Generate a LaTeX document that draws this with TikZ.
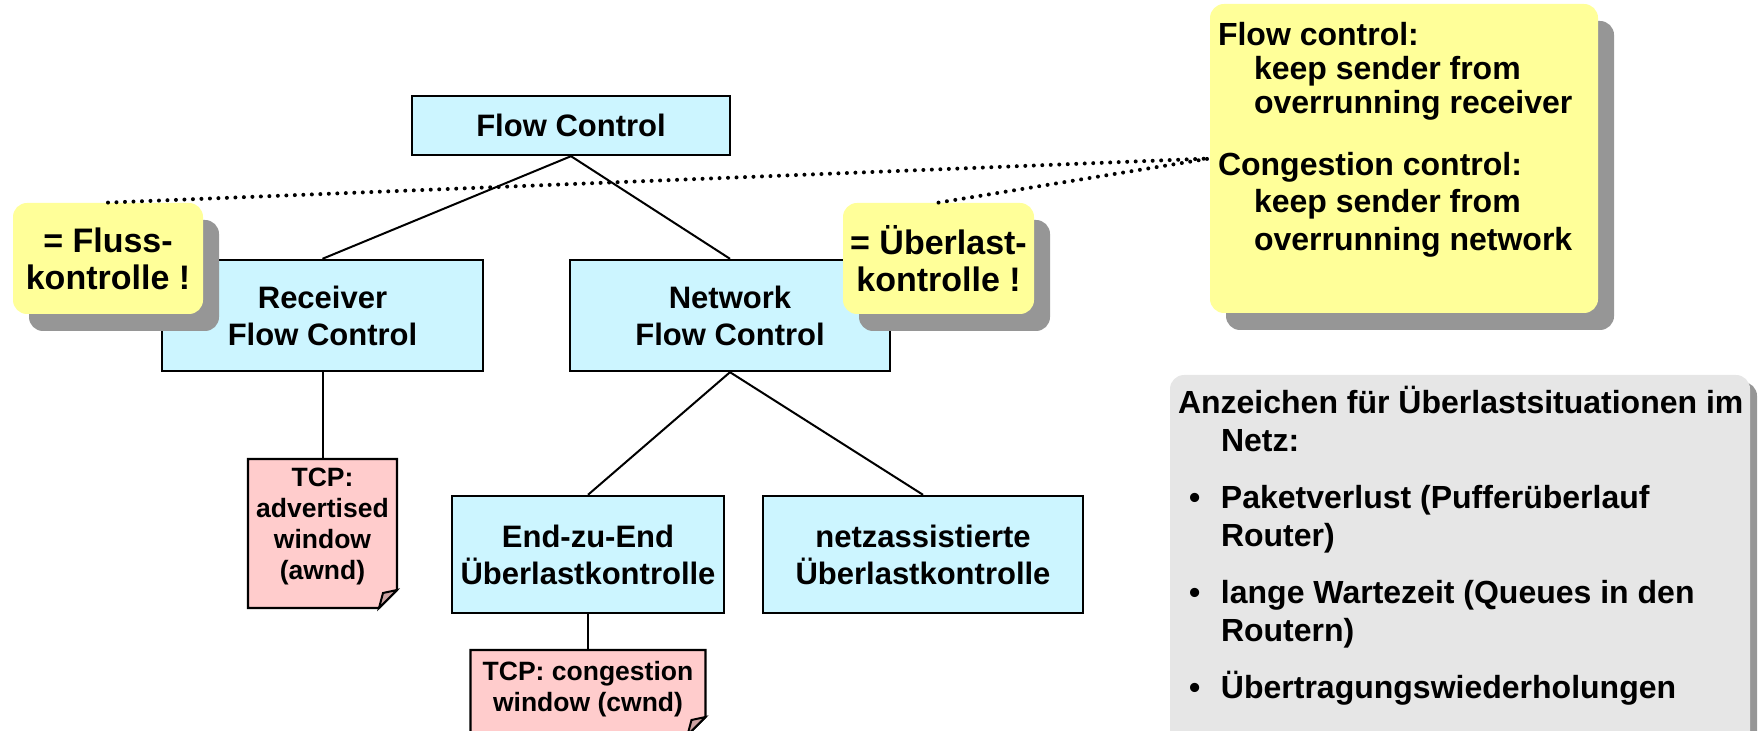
\documentclass[tikz,border=0pt]{standalone}
\usepackage{fontspec}
\setmainfont{Liberation Sans}
\usetikzlibrary{positioning,shadows,calc}

\definecolor{boxcyan}{RGB}{204,245,255}
\definecolor{calloutyellow}{RGB}{255,255,153}
\definecolor{notepink}{RGB}{255,204,204}
\definecolor{foldpink}{RGB}{204,163,163}
\definecolor{shadowgray}{RGB}{150,150,150}
\definecolor{infogray}{RGB}{230,230,230}

\newcommand{\infobullet}{\makebox[21.5pt][l]{\hspace*{5.5pt}•}}

\begin{document}
\begin{tikzpicture}[x=0.5pt,y=-0.5pt,
    ctrlbox/.style={draw,line width=1.2pt,fill=boxcyan,align=center,inner sep=2pt,
      font=\fontsize{15.5}{18.5}\selectfont\bfseries},
    callout/.style={fill=calloutyellow,rounded corners=7pt,align=center,inner sep=2pt,
      drop shadow={fill=shadowgray,opacity=1,shadow xshift=8pt,shadow yshift=-8.5pt},
      font=\fontsize{17}{18.5}\selectfont\bfseries},
    notearea/.style={inner sep=0pt,outer sep=0pt},
    notepaper/.style={fill=notepink,draw,line width=1.2pt},
    notefold/.style={fill=foldpink,draw,line width=1pt},
    notetext/.style={align=center,inner sep=0pt,font=\fontsize{13.25}{15.5}\selectfont\bfseries},
    tree/.style={line width=1pt},
    dots/.style={line width=2pt,line cap=round,dash pattern=on 0pt off 4.25pt}]
  \useasboundingbox (0,0) rectangle (1764,731);
  \clip (0,0) rectangle (1764,731);

  % tree of flow control
  \node[ctrlbox,minimum width=159pt,minimum height=29.5pt] (flow) at (571,125.5) {Flow Control};
  \node[ctrlbox,minimum width=160.5pt,minimum height=55.5pt] (recv) at (322.5,315.5) {Receiver\\Flow Control};
  \node[ctrlbox,minimum width=160pt,minimum height=55.5pt] (net) at (730,315.5) {Network\\Flow Control};
  \node[ctrlbox,minimum width=136pt,minimum height=58.5pt] (e2e) at (588,554.5) {End-zu-End\\Überlastkontrolle};
  \node[ctrlbox,minimum width=160pt,minimum height=58.5pt] (netz) at (923,554.5) {netzassistierte\\Überlastkontrolle};
  \draw[tree] (flow.south) -- (recv.north);
  \draw[tree] (flow.south) -- (net.north);
  \draw[tree] (net.south) -- (e2e.north);
  \draw[tree] (net.south) -- (netz.north);

  % TCP notes
  \node[notearea,minimum width=74.5pt,minimum height=74.5pt] (awnd) at (322.5,533.5) {};
  \draw[notepaper] (awnd.north west) -- (awnd.north east) -- ([yshift=9pt]awnd.south east)
    -- ([xshift=-9pt]awnd.south east) -- (awnd.south west) -- cycle;
  \draw[notefold] ([xshift=-9pt]awnd.south east) -- ([xshift=-7pt,yshift=7.5pt]awnd.south east)
    -- ([yshift=9pt]awnd.south east) -- cycle;
  \node[notetext,below=4.25pt of awnd.north] (awndtxt) {TCP:\\advertised\\window\\(awnd)};
  \draw[tree] (recv.south) -- (awnd.north);

  \node[notearea,minimum width=117.5pt,minimum height=42.5pt] (cwnd) at (588,692.5) {};
  \draw[notepaper] (cwnd.north west) -- (cwnd.north east) -- ([yshift=9pt]cwnd.south east)
    -- ([xshift=-9pt]cwnd.south east) -- (cwnd.south west) -- cycle;
  \draw[notefold] ([xshift=-9pt]cwnd.south east) -- ([xshift=-7pt,yshift=7.5pt]cwnd.south east)
    -- ([yshift=9pt]cwnd.south east) -- cycle;
  \node[notetext,below=5.5pt of cwnd.north] (cwndtxt) {TCP: congestion\\window (cwnd)};
  \draw[tree] (e2e.south) -- (cwnd.north);

  % callouts
  \node[callout,minimum width=95pt,minimum height=55.5pt] (fluss) at (108,258.5) {= Fluss-\\kontrolle !};
  \node[callout,minimum width=95.5pt,minimum height=55.5pt] (ueber) at (938.5,258.5) {= Überlast-\\kontrolle !};
  \node[callout,minimum width=194pt,minimum height=154.5pt] (fcnote) at (1404,158.5) {};
  \node[below right=9pt and 4pt of fcnote.north west,align=left,inner sep=0pt,
    font=\fontsize{16}{18.8}\selectfont\bfseries] (fctext)
    {Flow control:\\[-1.6pt]\hspace*{18pt}keep sender from\\[-1.6pt]\hspace*{18pt}overrunning receiver\\[11.9pt]
     Congestion control:\\\hspace*{18pt}keep sender from\\\hspace*{18pt}overrunning network};
  \draw[dots] (fluss.north) -- (fcnote.west);
  \draw[dots] (ueber.north) -- (fcnote.west);

  % signs of congestion
  \node[fill=infogray,rounded corners=7pt,minimum width=290pt,minimum height=185pt,
    drop shadow={fill=shadowgray,opacity=1,shadow xshift=3.5pt,shadow yshift=-3.5pt}] (info) at (1460,560) {};
  \node[below right=5.5pt and 4pt of info.north west,align=left,inner sep=0pt,
    font=\fontsize{16}{19}\selectfont\bfseries] (infotxt)
    {Anzeichen für Überlastsituationen im\\\hspace*{21.5pt}Netz:\\[9.5pt]
     \infobullet Paketverlust (Pufferüberlauf\\\hspace*{21.5pt}Router)\\[9.5pt]
     \infobullet lange Wartezeit (Queues in den\\\hspace*{21.5pt}Routern)\\[9.5pt]
     \infobullet Übertragungswiederholungen};
\end{tikzpicture}
\end{document}
